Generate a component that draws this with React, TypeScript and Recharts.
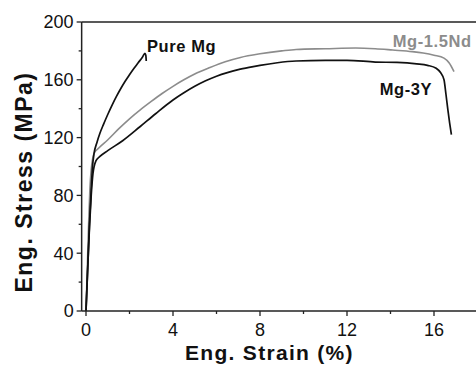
import React from 'react';
import { LineChart, Line, XAxis, YAxis, ReferenceDot } from 'recharts';

// Pure Mg
const pureStrain = [0, 0.08, 0.16, 0.24, 0.3, 0.37, 0.5, 0.64, 0.8, 1.0, 1.2, 1.4, 1.6, 1.8, 2.0, 2.2, 2.4, 2.6, 2.71, 2.75, 2.77];
const pureStress = [0, 30, 60, 85, 100, 109, 116.5, 123, 129, 136, 142.5, 148.5, 154, 159, 163.5, 167.8, 171.8, 175.8, 178.3, 177, 173];

// Mg-1.5Nd
const ndStrain = [0, 0.06, 0.12, 0.18, 0.24, 0.3, 0.37, 0.6, 0.97, 1.5, 2.0, 2.48, 3.0, 3.5, 4.0, 4.5, 5.0, 5.7, 6.4, 7.1, 8.0, 9.0, 9.66, 11.0, 12.4, 13.3, 14.1, 15.0, 15.5, 16.0, 16.46, 16.7, 16.92];
const ndStress = [0, 30, 60, 85, 98, 105, 109, 113, 118, 126, 133, 139, 145, 150.5, 155.5, 160, 164, 168.5, 172.5, 175.5, 178, 180, 181, 181.5, 182, 181.5, 180.6, 179.5, 178.5, 177, 175, 171.6, 165.6];

// Mg-3Y
const yStrain = [0, 0.08, 0.16, 0.24, 0.32, 0.46, 0.64, 1.0, 1.7, 2.48, 3.2, 4.0, 4.5, 5.0, 5.5, 6.0, 6.5, 7.0, 7.5, 8.0, 8.8, 9.66, 11.0, 12.0, 13.3, 14.3, 15.2, 15.7, 16.1, 16.3, 16.46, 16.55, 16.64, 16.72, 16.8];
const yStress = [0, 30, 58, 80, 95, 104, 107, 111, 118, 127.5, 136.5, 146, 151, 155.5, 159.3, 162.5, 165, 167, 168.6, 170, 171.8, 173, 173.5, 173.5, 172.3, 172, 171, 170, 168, 165, 160, 150, 139, 130, 122];

const xMajorTicks = [0, 4, 8, 12, 16];
const xMinorTicks = [2, 6, 10, 14];
const yMajorTicks = [0, 40, 80, 120, 160, 200];
const yMinorTicks = [20, 60, 100, 140, 180];
const topTicks = [0, 2, 4, 6, 8, 10, 12, 14, 16, 18];
const rightTicks = [20, 40, 60, 80, 100, 120, 140, 160, 180];

const seriesLabels = [
  { name: 'Pure Mg', x: 2.8, y: 179, color: '#111' },
  { name: 'Mg-1.5Nd', x: 14.1, y: 182.7, color: '#8c8c8c' },
  { name: 'Mg-3Y', x: 13.5, y: 149.5, color: '#111' },
];

const toPts = (xs: number[], ys: number[]) => xs.map((x, i) => ({ x, y: ys[i] }));
const pureData = toPts(pureStrain, pureStress);
const ndData = toPts(ndStrain, ndStress);
const yData = toPts(yStrain, yStress);

const FONT = '"Liberation Sans", Arial, Helvetica, sans-serif';
const AX = '#222';

const BottomTick = (p: any) => {
  const v = p.payload.value;
  const major = xMajorTicks.includes(v);
  return (
    <g>
      <line x1={p.x} x2={p.x} y1={p.y} y2={p.y + (major ? 5 : 3)} stroke={AX} strokeWidth={1.3} />
      {major && (
        <text x={p.x} y={p.y + 12} dy="0.71em" textAnchor="middle" fontSize={18} fontFamily={FONT} fill="#111">
          {v}
        </text>
      )}
    </g>
  );
};

const LeftTick = (p: any) => {
  const v = p.payload.value;
  const major = yMajorTicks.includes(v);
  return (
    <g>
      <line x1={p.x} x2={p.x - (major ? 5 : 3)} y1={p.y} y2={p.y} stroke={AX} strokeWidth={1.3} />
      {major && (
        <text x={p.x - 8} y={p.y} dy="0.36em" textAnchor="end" fontSize={18} fontFamily={FONT} fill="#111">
          {v}
        </text>
      )}
    </g>
  );
};

const TopTick = (p: any) => {
  const v = p.payload.value;
  const major = v % 4 === 0;
  return <line x1={p.x} x2={p.x} y1={p.y} y2={p.y + (major ? 5 : 3)} stroke={AX} strokeWidth={1.3} />;
};

const RightTick = (p: any) => {
  const v = p.payload.value;
  const major = v % 40 === 0;
  return <line x1={p.x} x2={p.x - (major ? 5 : 3)} y1={p.y} y2={p.y} stroke={AX} strokeWidth={1.3} />;
};

export default function App() {
  return (
    <div style={{ position: 'absolute', left: 0, top: 0, width: 476, height: 365, overflow: 'hidden', background: '#fff' }}>
      <LineChart width={479} height={365} margin={{ top: 21, right: 0.5, bottom: 53, left: 80.65 }}>
        <XAxis
          xAxisId={0}
          dataKey="x"
          type="number"
          domain={[-0.2, 18]}
          ticks={[...xMajorTicks, ...xMinorTicks].sort((a, b) => a - b)}
          interval={0}
          height={1}
          tickSize={0}
          tickMargin={0}
          tickLine={false}
          tick={BottomTick}
          axisLine={{ stroke: AX, strokeWidth: 1.5 }}
          label={(lp: any) => {
            const vb = lp.viewBox;
            return (
              <text x={185} y={vb.y + 49} fontSize={21} fontWeight="bold" letterSpacing={1.3} fontFamily={FONT} fill="#111">
                Eng. Strain (%)
              </text>
            );
          }}
        />
        <XAxis
          xAxisId="top"
          orientation="top"
          dataKey="x"
          type="number"
          domain={[-0.2, 18]}
          ticks={topTicks}
          interval={0}
          height={1}
          tickSize={0}
          tickMargin={0}
          tickLine={false}
          tick={TopTick}
          axisLine={{ stroke: AX, strokeWidth: 1.5 }}
        />
        <YAxis
          yAxisId={0}
          type="number"
          domain={[0, 200]}
          ticks={[...yMajorTicks, ...yMinorTicks].sort((a, b) => a - b)}
          interval={0}
          width={1}
          tickSize={0}
          tickMargin={0}
          tickLine={false}
          tick={LeftTick}
          axisLine={{ stroke: AX, strokeWidth: 1.5 }}
          label={(lp: any) => {
            const vb = lp.viewBox;
            const cx = 32;
            const cy = vb.y + vb.height / 2 + 15.5;
            return (
              <text x={cx} y={cy} transform={`rotate(-90 ${cx} ${cy})`} textAnchor="middle" fontSize={23} fontWeight="bold" letterSpacing={1.5} fontFamily={FONT} fill="#111">
                Eng. Stress (MPa)
              </text>
            );
          }}
        />
        <YAxis
          yAxisId="right"
          orientation="right"
          type="number"
          domain={[0, 200]}
          ticks={rightTicks}
          interval={0}
          width={1}
          tickSize={0}
          tickMargin={0}
          tickLine={false}
          tick={RightTick}
          axisLine={{ stroke: AX, strokeWidth: 1.5 }}
        />
        <Line data={ndData} dataKey="y" type="monotone" stroke="#8c8c8c" strokeWidth={1.6} dot={false} isAnimationActive={false} />
        <Line data={yData} dataKey="y" type="monotone" stroke="#111" strokeWidth={1.7} dot={false} isAnimationActive={false} />
        <Line data={pureData} dataKey="y" type="monotone" stroke="#111" strokeWidth={1.7} dot={false} isAnimationActive={false} />
        {seriesLabels.map((s) => (
          <ReferenceDot
            key={s.name}
            x={s.x}
            y={s.y}
            r={0}
            ifOverflow="visible"
            stroke="none"
            fill="none"
            label={(lp: any) => (
              <text x={lp.viewBox.x} y={lp.viewBox.y} fontSize={16.5} fontWeight="bold" letterSpacing={0.6} fontFamily={FONT} fill={s.color}>
                {s.name}
              </text>
            )}
          />
        ))}
      </LineChart>
    </div>
  );
}
